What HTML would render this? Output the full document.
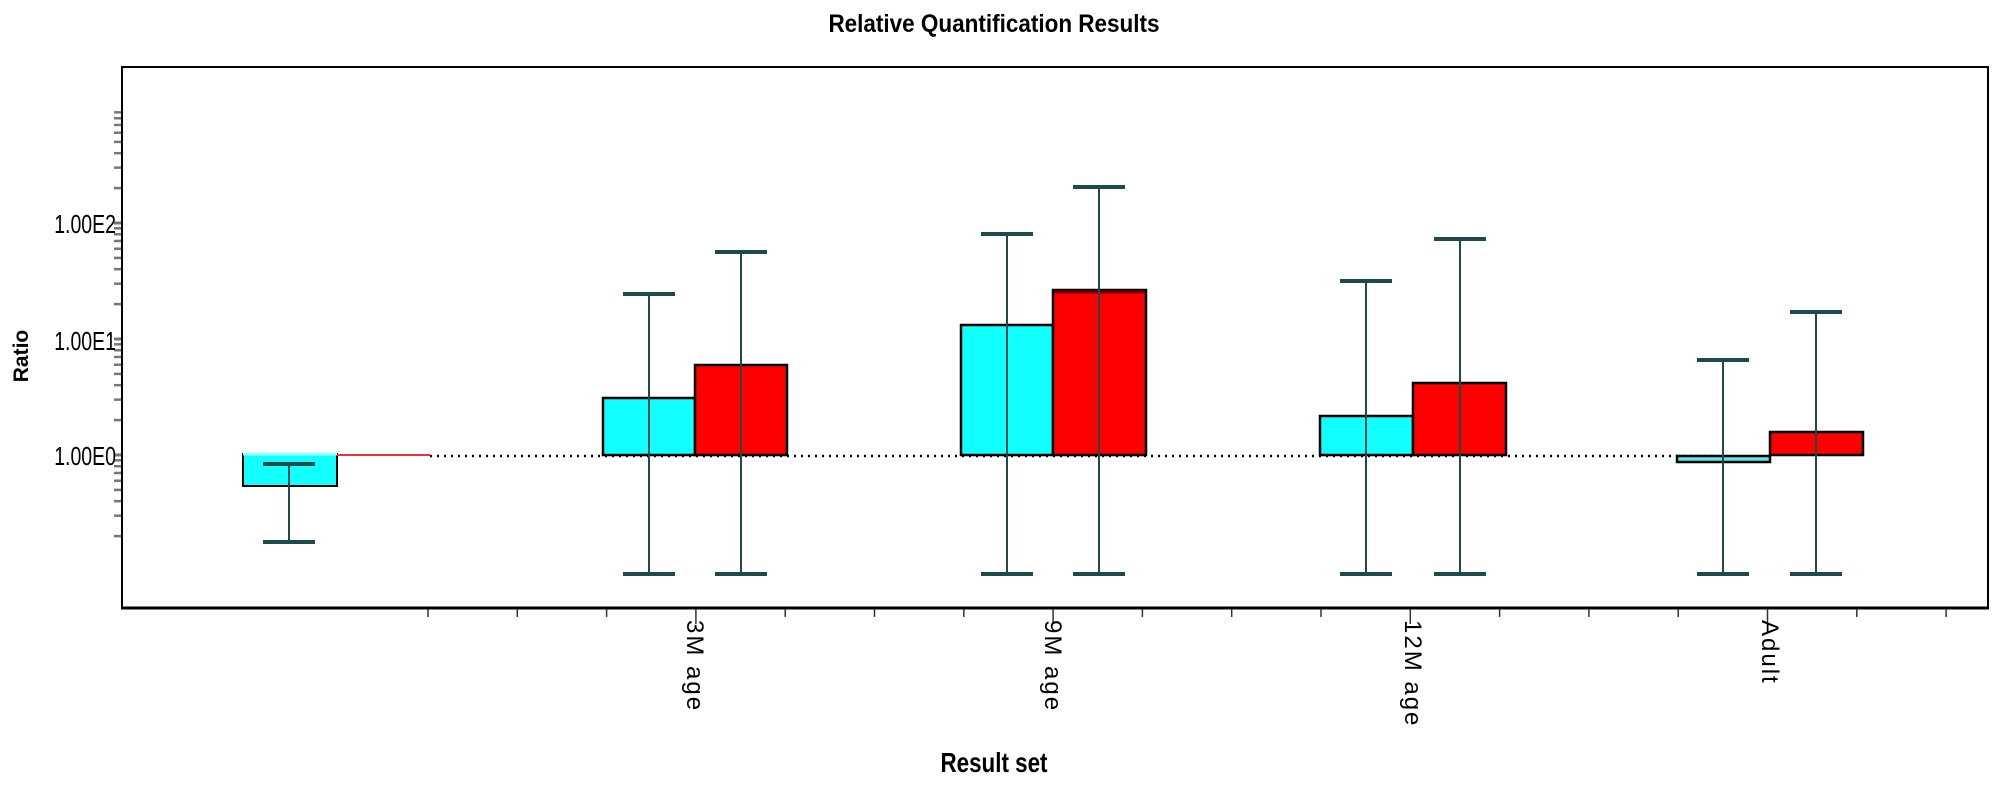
<!DOCTYPE html>
<html><head><meta charset="utf-8"><style>html,body{margin:0;padding:0;background:#fff;}svg{display:block}</style></head>
<body>
<svg width="1996" height="789" viewBox="0 0 1996 789" xmlns="http://www.w3.org/2000/svg" font-family="'Liberation Sans', sans-serif">
<rect width="1996" height="789" fill="#fff"/>
<text x="994" y="32" text-anchor="middle" font-size="25" font-weight="bold" transform="translate(994,0) scale(0.9,1) translate(-994,0)">Relative Quantification Results</text>
<rect x="122" y="67" width="1866" height="541" fill="none" stroke="#000" stroke-width="2"/>
<line x1="121" y1="608" x2="1989" y2="608" stroke="#000" stroke-width="3"/>
<g stroke="#777" stroke-width="3" id="yt"></g>
<g font-size="26" text-anchor="end">
<text x="116" y="233" transform="translate(116,0) scale(0.75,1) translate(-116,0)">1.00E2</text>
<text x="116" y="350" transform="translate(116,0) scale(0.75,1) translate(-116,0)">1.00E1</text>
<text x="116" y="465" transform="translate(116,0) scale(0.75,1) translate(-116,0)">1.00E0</text>
</g>
<text transform="translate(28,356) rotate(-90)" text-anchor="middle" font-size="21" font-weight="bold">Ratio</text>
<g stroke="#333" stroke-width="1.5" id="xt"></g>
<line x1="430" y1="456" x2="1717" y2="456" stroke="#000" stroke-width="2.5" stroke-dasharray="2,5"/>
<rect x="243" y="454" width="94" height="32" fill="#12ffff" stroke="#000" stroke-width="2"/>
<line x1="243" y1="454" x2="337" y2="454" stroke="#9ff" stroke-width="3"/>
<line x1="337" y1="455" x2="430" y2="455" stroke="#e33" stroke-width="2"/>
<rect x="603" y="398" width="92" height="57" fill="#12ffff" stroke="#000" stroke-width="2.5"/>
<rect x="695" y="365" width="92" height="90" fill="#ff0000" stroke="#000" stroke-width="2.5"/>
<rect x="961" y="325" width="92" height="130" fill="#12ffff" stroke="#000" stroke-width="2.5"/>
<rect x="1053" y="290" width="93" height="165" fill="#ff0000" stroke="#000" stroke-width="2.5"/>
<line x1="1054" y1="292" x2="1145" y2="292" stroke="#700" stroke-width="3"/>
<rect x="1320" y="416" width="93" height="39" fill="#12ffff" stroke="#000" stroke-width="2.5"/>
<rect x="1413" y="383" width="93" height="72" fill="#ff0000" stroke="#000" stroke-width="2.5"/>
<rect x="1677" y="456" width="93" height="6" fill="#5ee" stroke="#000" stroke-width="2.5"/>
<rect x="1770" y="432" width="93" height="23" fill="#ff0000" stroke="#000" stroke-width="2.5"/>
<g stroke="#1d4a4a" stroke-width="2" id="eb"></g>
<g font-size="24" fill="#000" letter-spacing="2">
<text transform="translate(687,620) rotate(90)">3M  age</text>
<text transform="translate(1045,620) rotate(90)">9M  age</text>
<text transform="translate(1405,620) rotate(90)">12M  age</text>
<text transform="translate(1762,620) rotate(90)">Adult</text>
</g>
<text x="994" y="772" text-anchor="middle" font-size="28" font-weight="bold" transform="translate(994,0) scale(0.8,1) translate(-994,0)">Result set</text>
<script>
var ns="http://www.w3.org/2000/svg";
function L(g,x1,y1,x2,y2,w){var l=document.createElementNS(ns,"line");l.setAttribute("x1",x1);l.setAttribute("y1",y1);l.setAttribute("x2",x2);l.setAttribute("y2",y2);if(w)l.setAttribute("stroke-width",w);g.appendChild(l);}
var yt=document.getElementById("yt");
for(var d=-1;d<=2;d++){for(var k=1;k<10;k++){var v=Math.log10(k)+d;var y=455-116*v;if(y<108||y>550)continue;L(yt,114,y,121,y,k==1?3:2.5);}}
var xt=document.getElementById("xt");
for(var i=0;i<18;i++){var x=428+89.3*i;if(x>1965)break;var r=((x-695)%357.2+357.2)%357.2;var lg=(r<3||r>354);L(xt,x,609,x,lg?624:617,1.5);}
var eb=document.getElementById("eb");
var bars=[[289,464,542],[649,294,574],[741,252,574],[1007,234,574],[1099,187,574],[1366,281,574],[1460,239,574],[1723,360,574],[1816,312,574]];
bars.forEach(function(b){L(eb,b[0],b[1],b[0],b[2],2);L(eb,b[0]-26,b[1],b[0]+26,b[1],4);L(eb,b[0]-26,b[2],b[0]+26,b[2],4);});
</script>
</svg>
</body></html>
